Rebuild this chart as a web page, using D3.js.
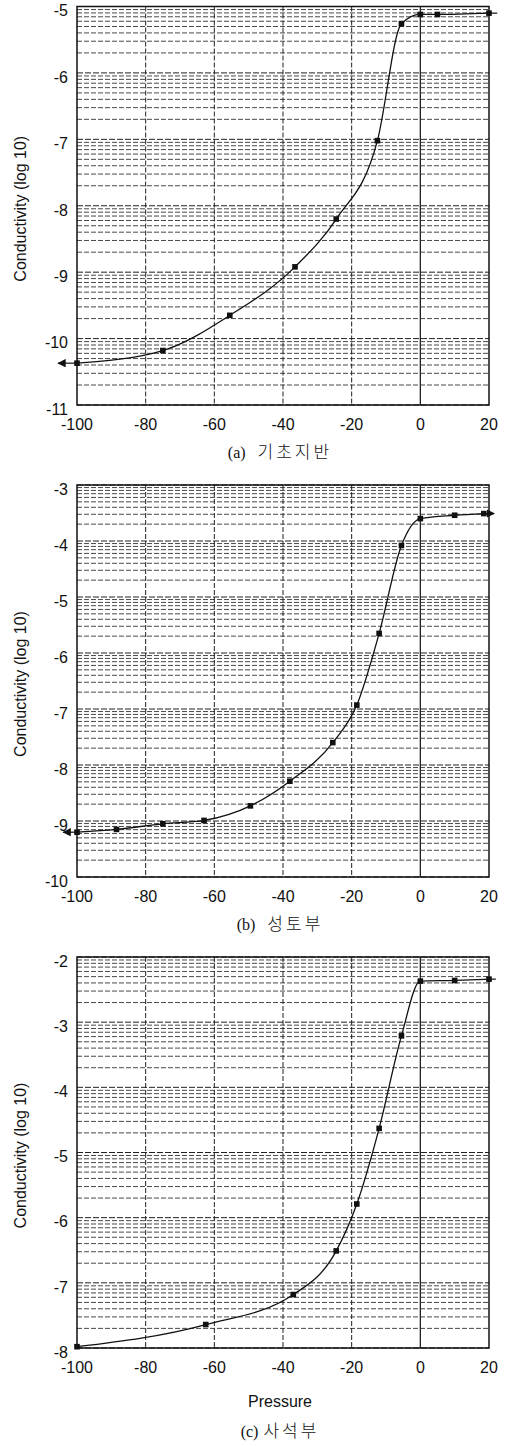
<!DOCTYPE html>
<html>
<head>
<meta charset="utf-8">
<script src="https://cdn.jsdelivr.net/npm/d3@7/dist/d3.min.js"></script>
<style>
  html, body { margin: 0; padding: 0; background: #fff; }
  svg { display: block; }
  .tick-label { font-family: "Liberation Sans", Arial, sans-serif; font-size: 16px; fill: #111; }
  .cap-latin { font-family: "Liberation Serif", serif; font-size: 16px; fill: #111; }
  .cap-ko { font-family: "Noto Sans CJK KR", sans-serif; font-size: 17px; font-weight: 300; fill: #111; letter-spacing: 3px; }
</style>
</head>
<body>
<svg id="chart" width="507" height="1446"></svg>
<script>
// ---- Data ----
const xTicks = [-100, -80, -60, -40, -20, 0, 20];

const pressureA = [-100, -75, -55.5, -36.5, -24.5, -12.5, -5.5, 0, 5, 20];
const conductivityA = [-10.37, -10.18, -9.65, -8.92, -8.2, -7.02, -5.26, -5.12, -5.12, -5.1];
const yTicksA = [-11, -10, -9, -8, -7, -6, -5];

const pressureB = [-100, -88.5, -75, -63, -49.5, -38, -25.5, -18.5, -12, -5.5, 0, 10, 18.5];
const conductivityB = [-9.2, -9.15, -9.05, -8.99, -8.73, -8.29, -7.6, -6.93, -5.65, -4.08, -3.6, -3.54, -3.51];
const yTicksB = [-10, -9, -8, -7, -6, -5, -4, -3];

const pressureC = [-100, -62.5, -37, -24.5, -18.5, -12, -5.5, 0, 10, 20];
const conductivityC = [-7.98, -7.64, -7.18, -6.51, -5.79, -4.63, -3.21, -2.37, -2.36, -2.34];
const yTicksC = [-8, -7, -6, -5, -4, -3, -2];

// line extensions beyond the plotted range (pressure values)
const leftEnds = [-105.5, -104, null];
const rightEnds = [22.4, 21.5, 22];
const rightArrow = [false, true, false];

const captionTags = ["(a)", "(b)", "(c)"];
const captionNames = ["기초지반", "성토부", "사석부"];
const yTitle = "Conductivity (log 10)";
const xTitle = "Pressure";

// ---- Layout ----
const svg = d3.select("#chart");
const left = 77, right = 489;
const panels = [
  { px: pressureA, cy: conductivityA, yt: yTicksA, top: 6.5, bottom: 405, xt: null },
  { px: pressureB, cy: conductivityB, yt: yTicksB, top: 485, bottom: 877, xt: null },
  { px: pressureC, cy: conductivityC, yt: yTicksC, top: 957, bottom: 1348, xt: xTitle }
];

const defs = svg.append("defs");
defs.append("marker")
  .attr("id", "arrowL").attr("viewBox", "0 0 10 10").attr("refX", 9).attr("refY", 5)
  .attr("markerWidth", 7).attr("markerHeight", 7).attr("orient", "auto")
  .append("path").attr("d", "M0,0 L10,5 L0,10 Z").attr("fill", "#111");

panels.forEach((p, i) => {
  const g = svg.append("g");
  const x = d3.scaleLinear().domain([-100, 20]).range([left, right]);
  const yMin = d3.min(p.yt), yMax = d3.max(p.yt);
  const y = d3.scaleLinear().domain([yMin, yMax]).range([p.bottom, p.top]);

  // minor log grid
  const minor = [];
  for (let d = yMin; d < yMax; d++) {
    for (let k = 2; k <= 9; k++) minor.push(d + Math.log10(k));
  }
  g.selectAll(".minor").data(minor).enter().append("line")
    .attr("x1", left).attr("x2", right)
    .attr("y1", v => y(v)).attr("y2", v => y(v))
    .attr("stroke", "#333").attr("stroke-width", 0.9).attr("stroke-dasharray", "5,2");
  // major horizontal
  g.selectAll(".major").data(p.yt).enter().append("line")
    .attr("x1", left).attr("x2", right)
    .attr("y1", v => y(v)).attr("y2", v => y(v))
    .attr("stroke", "#222").attr("stroke-width", 1).attr("stroke-dasharray", "6,2");
  // vertical grid
  g.selectAll(".vgrid").data(xTicks.filter(t => t > -100 && t < 20)).enter().append("line")
    .attr("x1", v => x(v)).attr("x2", v => x(v))
    .attr("y1", p.top).attr("y2", p.bottom)
    .attr("stroke", "#222").attr("stroke-width", v => v === 0 ? 1.3 : 1)
    .attr("stroke-dasharray", v => v === 0 ? null : "5,2");

  // frame
  g.append("rect").attr("x", left).attr("y", p.top).attr("width", right - left).attr("height", p.bottom - p.top)
    .attr("fill", "none").attr("stroke", "#111").attr("stroke-width", 1.5);

  // y tick labels
  g.selectAll(".yl").data(p.yt).enter().append("text")
    .attr("class", "tick-label").attr("x", 68).attr("y", v => y(v) + 4).attr("dy", "0.36em")
    .attr("text-anchor", "end").text(v => v);
  // x tick labels
  g.selectAll(".xl").data(xTicks).enter().append("text")
    .attr("class", "tick-label").attr("x", v => x(v)).attr("y", p.bottom + 25)
    .attr("text-anchor", "middle").text(v => v);

  // y title
  const cyMid = (p.top + p.bottom) / 2 + 3;
  g.append("text").attr("class", "tick-label")
    .attr("transform", `translate(26,${cyMid}) rotate(-90)`)
    .attr("text-anchor", "middle").text(yTitle);

  // data
  const pts = p.px.map((v, j) => [v, p.cy[j]]);
  if (leftEnds[i] !== null) {
    g.append("line").attr("x1", x(pts[0][0])).attr("y1", y(pts[0][1]))
      .attr("x2", x(leftEnds[i])).attr("y2", y(pts[0][1]))
      .attr("stroke", "#111").attr("stroke-width", 1.2).attr("marker-end", "url(#arrowL)");
  }
  if (rightEnds[i] !== null) {
    const last = pts[pts.length - 1];
    g.append("line").attr("x1", x(last[0])).attr("y1", y(last[1]))
      .attr("x2", x(rightEnds[i])).attr("y2", y(last[1]))
      .attr("stroke", "#111").attr("stroke-width", 1.2)
      .attr("marker-end", rightArrow[i] ? "url(#arrowL)" : null);
  }
  const line = d3.line().x(d => x(d[0])).y(d => y(d[1])).curve(d3.curveMonotoneX);
  g.append("path").attr("d", line(pts)).attr("fill", "none").attr("stroke", "#111").attr("stroke-width", 1.3);
  g.selectAll(".pt").data(pts).enter().append("rect")
    .attr("x", d => x(d[0]) - 2.8).attr("y", d => y(d[1]) - 2.8)
    .attr("width", 5.6).attr("height", 5.6).attr("fill", "#111");

  // titles
  let capY = p.bottom + 53;
  if (p.xt) {
    g.append("text").attr("class", "tick-label").attr("x", 280).attr("y", p.bottom + 59)
      .attr("text-anchor", "middle").text(p.xt);
    capY = p.bottom + 89;
  }
  const cap = g.append("text").attr("x", 280).attr("y", capY).attr("text-anchor", "middle");
  cap.append("tspan").attr("class", "cap-latin").text(captionTags[i]);
  cap.append("tspan").attr("class", "cap-ko").attr("dx", i === 2 ? 5 : 12).text(captionNames[i]);
});
</script>
</body>
</html>
